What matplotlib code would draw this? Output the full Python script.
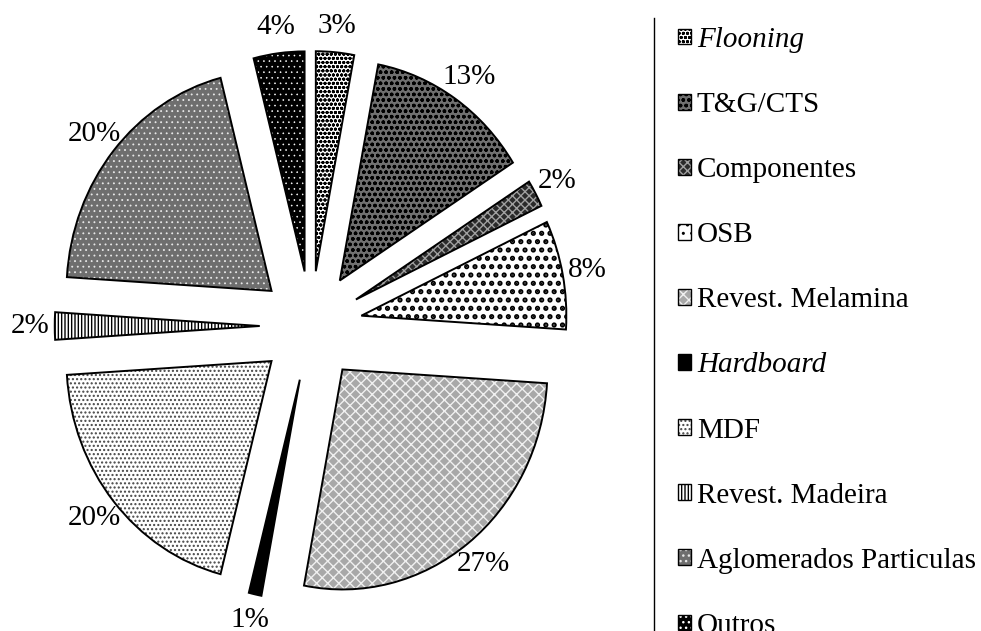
import matplotlib
matplotlib.use("Agg")
import matplotlib.pyplot as plt
from matplotlib.lines import Line2D
from matplotlib.patches import Patch

plt.rcParams["font.family"] = ["Liberation Serif", "DejaVu Serif"]
plt.rcParams["hatch.linewidth"] = 1.0

categories = ["Flooning", "T&G/CTS", "Componentes", "OSB", "Revest. Melamina",
              "Hardboard", "MDF", "Revest. Madeira", "Aglomerados Particulas", "Outros"]
shares = [3, 13, 2, 8, 27, 1, 20, 2, 20, 4]
italic_labels = ["Flooning", "Hardboard"]

# fill colour, hatch pattern and hatch colour for each slice (grayscale print look)
face_colors = ["white", "#707070", "#2a2a2a", "white", "#a8a8a8",
               "black", "white", "white", "#6e6e6e", "black"]
hatches = ["oooo", "ooo", "xxxx", "..", "xxx", "", "....", "|||||", "...", "..."]
hatch_colors = ["black", "black", "#a0a0a0", "black", "#f0f0f0",
                "black", "#444444", "black", "#e8e8e8", "white"]
hatch_widths = [1.0, 1.0, 1.0, 2.5, 1.0, 1.0, 1.0, 1.0, 0.6, 0.4]

fig = plt.figure(figsize=(9.81, 6.31), dpi=100)
ax = fig.add_axes([0, 0, 1, 1])

explode = [0.25] * len(shares)

# hatched fill layer (edge colour only drives the hatch colour)
wedges, texts, pct_texts = ax.pie(
    shares, explode=explode, startangle=90, counterclock=False,
    autopct="%1.0f%%", pctdistance=1.12,
    wedgeprops=dict(linewidth=0), textprops=dict(fontsize=21),
)
for w, fc, h, hc, hw in zip(wedges, face_colors, hatches, hatch_colors, hatch_widths):
    w.set_facecolor(fc)
    w.set_edgecolor(hc)
    w.set_hatch(h)
    try:
        w.set_hatch_linewidth(hw)
    except AttributeError:
        pass

# black outlines on top
ax.pie(shares, explode=explode, startangle=90, counterclock=False,
       wedgeprops=dict(fill=False, edgecolor="black", linewidth=1.4))

# the original picture is a bit squashed horizontally
ax.set_aspect("auto")
ax.set_xlim(-311 / 205, (981 - 311) / 205)
ax.set_ylim(-(631 - 326) / 220, 326 / 220)
ax.axis("off")

# legend with small hatched squares
handles = []
for fc, h, hc in zip(face_colors, hatches, hatch_colors):
    fill = Patch(facecolor=fc, hatch=h, edgecolor=hc, linewidth=0)
    border = Patch(fill=False, edgecolor="black", linewidth=1.0)
    handles.append((fill, border))

leg = fig.legend(handles, categories, loc="upper left",
                 bbox_to_anchor=(678 / 981, (631 - 27) / 631),
                 frameon=False, fontsize=21, handlelength=0.45, handleheight=0.45,
                 handletextpad=0.2, labelspacing=1.34, borderpad=0, borderaxespad=0)
for t in leg.get_texts():
    if t.get_text() in italic_labels:
        t.set_fontstyle("italic")

# separator line left of the legend
fig.add_artist(Line2D([654 / 981, 654 / 981], [0, (631 - 18) / 631],
                      transform=fig.transFigure, color="black", linewidth=1))

fig.savefig("out.png", dpi=100)
